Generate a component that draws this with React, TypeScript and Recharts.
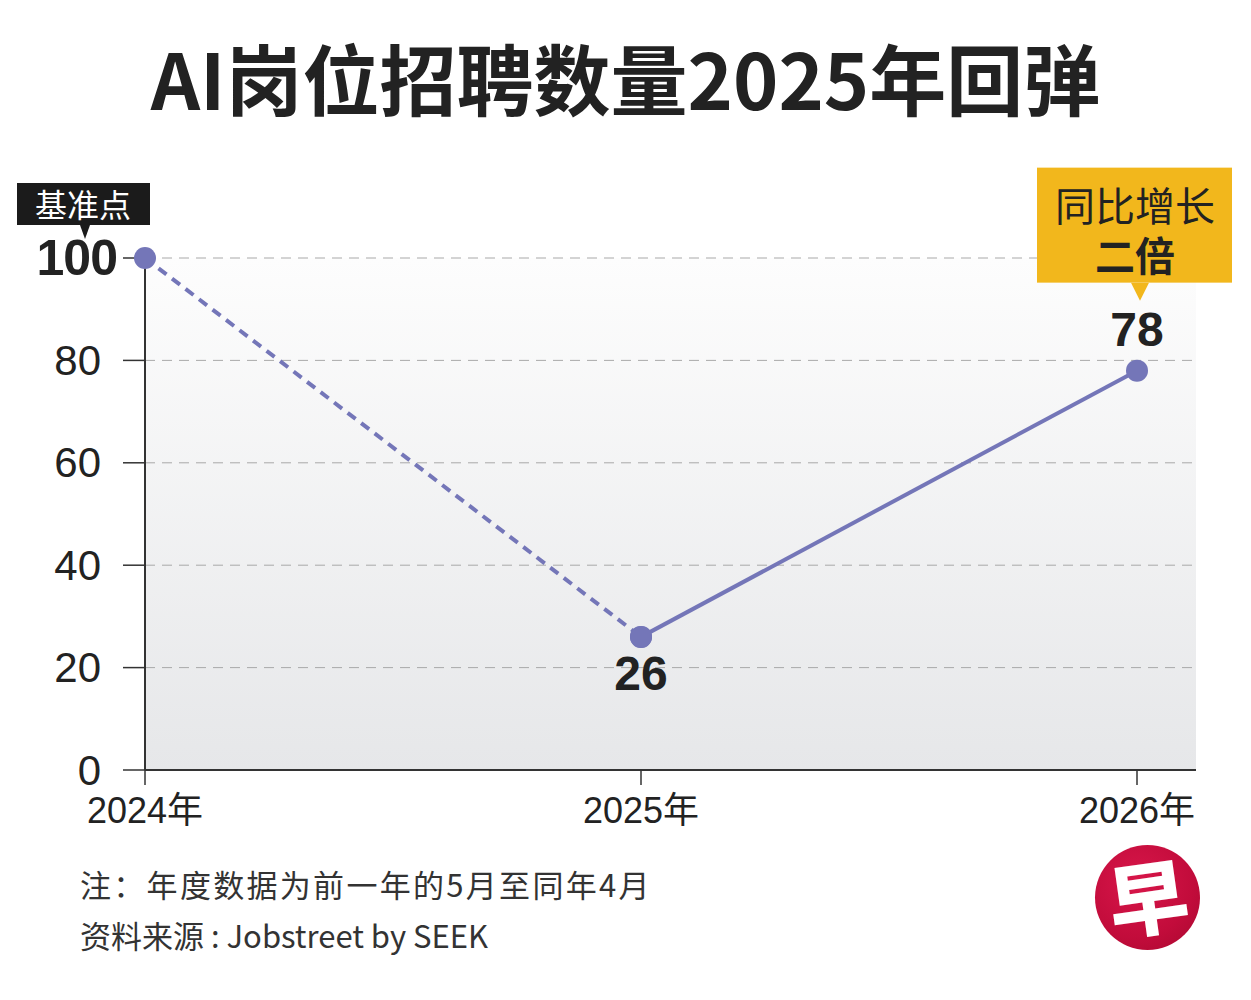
import React from "react";
import { LineChart, Line, XAxis, YAxis, CartesianGrid, LabelList } from "recharts";

// AI job postings index (2024 = 100)
const years = ["2024年", "2025年", "2026年"];
const baselineLeg = [100, 26, null];
const reboundLeg = [null, 26, 78];
const yTicks = [0, 20, 40, 60, 80, 100];

const data = years.map((year, i) => ({ year, baseline: baselineLeg[i], rebound: reboundLeg[i] }));

const LINE = "#7476b8";
const INK = "#222";
const NUM_FONT = '"Liberation Sans", Arial, "Noto Sans CJK SC", sans-serif';
const CJK_FONT = '"Noto Sans CJK SC", "Noto Sans", sans-serif';

function YTick({ x, y, payload }: any) {
  const top = payload.value === 100;
  return (
    <text
      x={top ? x - 6 : x - 22}
      y={y}
      textAnchor="end"
      dominantBaseline="central"
      fontFamily={NUM_FONT}
      fontSize={top ? 50 : 42}
      fontWeight={top ? 700 : 400}
      letterSpacing={top ? -1 : 0}
      fill={INK}
    >
      {payload.value}
    </text>
  );
}

function XTick({ x, y, payload }: any) {
  return (
    <text x={x} y={y + 25} textAnchor="middle" dominantBaseline="central" fontFamily={NUM_FONT} fontSize={36} fill={INK}>
      {payload.value}
    </text>
  );
}

function BaseLabel({ x, y, index }: any) {
  if (index !== 0) return null;
  const left = x - 128;
  const top = y - 75;
  return (
    <g>
      <rect x={left} y={top} width={133} height={42} fill="#1b1b1b" />
      <path d={`M${x - 65},${top + 42} L${x - 55},${top + 42} L${x - 60},${top + 56} Z`} fill="#1b1b1b" />
      <text x={left + 66} y={top + 20} textAnchor="middle" dominantBaseline="central" fontFamily={CJK_FONT} fontSize={32} fill="#fff">
        基准点
      </text>
    </g>
  );
}

function ReboundLabel({ x, y, index, value }: any) {
  if (index === 1) {
    return (
      <text x={x} y={y + 37} textAnchor="middle" dominantBaseline="central" fontFamily={NUM_FONT} fontSize={48} fontWeight={700} fill={INK}>
        {value}
      </text>
    );
  }
  if (index !== 2) return null;
  const top = y - 203;
  return (
    <g>
      <rect x={x - 100} y={top} width={195} height={115} fill="#f2b71c" />
      <path d={`M${x - 6},${top + 115} L${x + 12},${top + 115} L${x + 3},${top + 133} Z`} fill="#f2b71c" />
      <text x={x - 2} y={top + 36} textAnchor="middle" dominantBaseline="central" fontFamily={CJK_FONT} fontSize={40} fill={INK}>
        同比增长
      </text>
      <text x={x - 2} y={top + 86} textAnchor="middle" dominantBaseline="central" fontFamily={CJK_FONT} fontSize={40} fontWeight={700} fill={INK}>
        二倍
      </text>
      <text x={x} y={y - 41} textAnchor="middle" dominantBaseline="central" fontFamily={NUM_FONT} fontSize={48} fontWeight={700} fill={INK}>
        {value}
      </text>
    </g>
  );
}

export default function App() {
  return (
    <div style={{ position: "absolute", left: 0, top: 0, width: 1251, height: 1000, background: "#fff", overflow: "hidden" }}>
      <div
        style={{
          position: "absolute",
          left: 0,
          width: 1251,
          top: 30,
          textAlign: "center",
          fontFamily: CJK_FONT,
          fontWeight: 700,
          fontSize: 77,
          lineHeight: "94px",
          color: INK,
        }}
      >
        AI岗位招聘数量2025年回弹
      </div>

      <div style={{ position: "absolute", left: 0, top: 0 }}>
        <LineChart width={1251} height={1000} data={data} margin={{ top: 258, right: 55, bottom: 200, left: 0 }}>
          <defs>
            <linearGradient id="plotBg" x1="0" y1="0" x2="0" y2="1">
              <stop offset="0%" stopColor="#fdfdfd" />
              <stop offset="100%" stopColor="#e6e7e9" />
            </linearGradient>
          </defs>
          <CartesianGrid vertical={false} fill="url(#plotBg)" stroke="#a9a9a9" strokeDasharray="10 7" />
          <XAxis
            dataKey="year"
            height={30}
            padding={{ left: 0, right: 59 }}
            axisLine={{ stroke: "#333", strokeWidth: 2 }}
            tickLine={{ stroke: "#333", strokeWidth: 1.5 }}
            tickSize={15}
            tickMargin={0}
            tick={<XTick />}
            interval={0}
          />
          <YAxis
            width={145}
            domain={[0, 100]}
            ticks={yTicks}
            axisLine={{ stroke: "#333", strokeWidth: 2 }}
            tickLine={{ stroke: "#333", strokeWidth: 1.5 }}
            tickSize={22}
            tickMargin={0}
            tick={<YTick />}
            interval={0}
          />
          <Line
            dataKey="baseline"
            stroke={LINE}
            strokeWidth={4}
            strokeDasharray="10 7"
            dot={{ r: 11, fill: LINE, stroke: "none", strokeDasharray: "" }}
            activeDot={false}
            isAnimationActive={false}
          >
            <LabelList dataKey="baseline" content={<BaseLabel />} />
          </Line>
          <Line
            dataKey="rebound"
            stroke={LINE}
            strokeWidth={4}
            dot={{ r: 11, fill: LINE, stroke: "none" }}
            activeDot={false}
            isAnimationActive={false}
          >
            <LabelList dataKey="rebound" content={<ReboundLabel />} />
          </Line>
        </LineChart>
      </div>

      <div style={{ position: "absolute", left: 80, top: 865, fontFamily: CJK_FONT, fontSize: 31, letterSpacing: 2.3, lineHeight: "38px", color: "#333" }}>
        注：年度数据为前一年的5月至同年4月
      </div>
      <div style={{ position: "absolute", left: 80, top: 916, fontFamily: CJK_FONT, fontSize: 31, lineHeight: "38px", color: "#333" }}>
        资料来源 : Jobstreet by SEEK
      </div>

      <div
        style={{
          position: "absolute",
          left: 1095,
          top: 845,
          width: 105,
          height: 105,
          borderRadius: "50%",
          background: "radial-gradient(circle at 40% 35%, #d8164a 0%, #c20c3b 60%, #a8082f 100%)",
          color: "#fff",
          fontFamily: CJK_FONT,
          fontWeight: 900,
          fontSize: 80,
          lineHeight: "105px",
          textAlign: "center",
        }}
      >
        <span style={{ display: "inline-block", transform: "rotate(-8deg) translateY(-3px)" }}>早</span>
      </div>
    </div>
  );
}
